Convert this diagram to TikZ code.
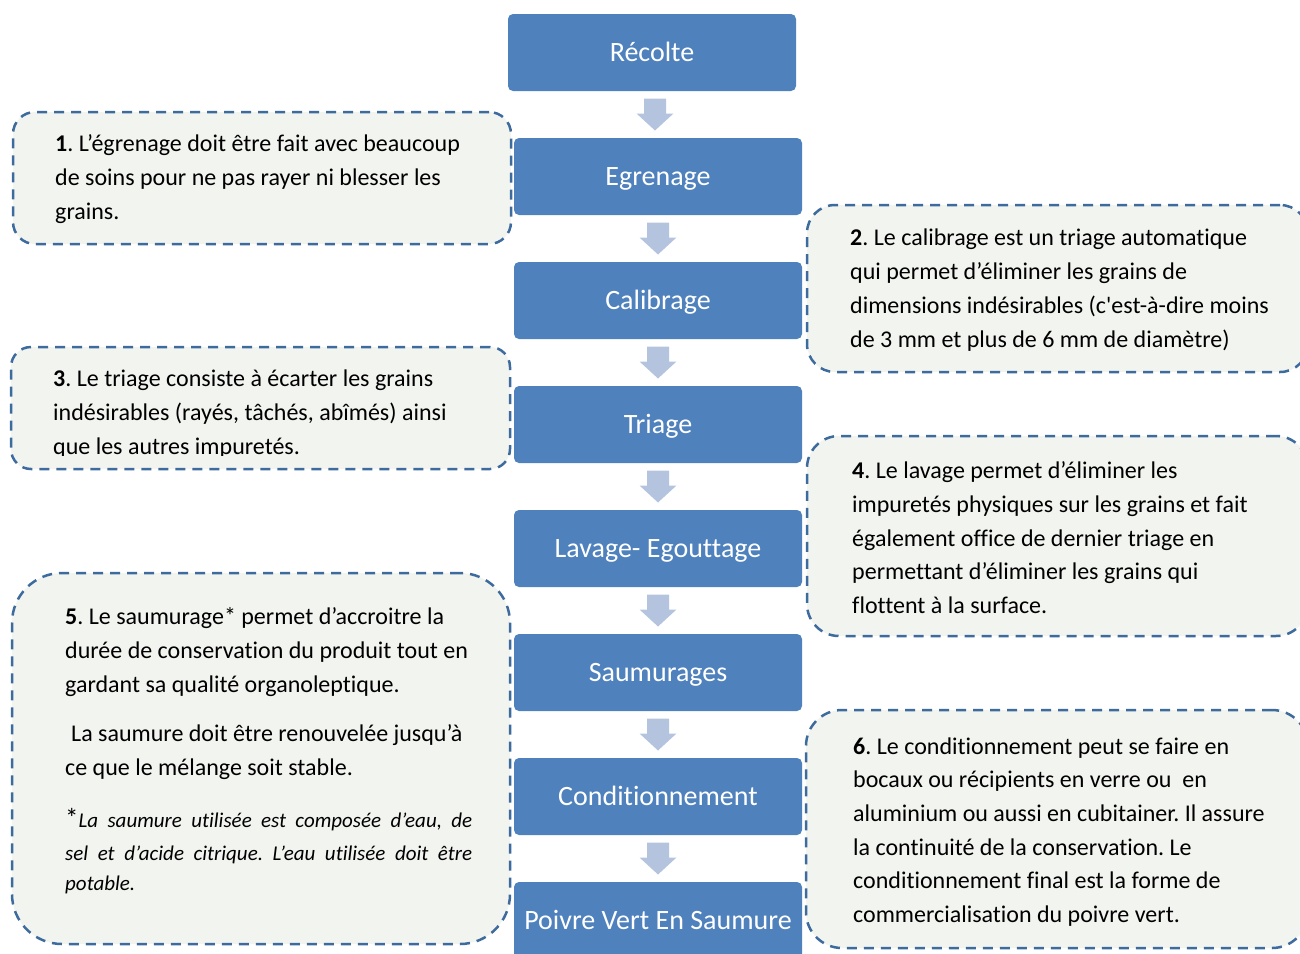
\documentclass[tikz,border=0pt]{standalone}
\usepackage{fontspec}
\setmainfont{Carlito}[Ligatures={CommonOff,TeXOff}]
\usetikzlibrary{calc}
\definecolor{stepfill}{HTML}{4F81BD}
\definecolor{arrowfill}{HTML}{B4C3DE}
\definecolor{notefill}{HTML}{F2F4EF}
\definecolor{notedraw}{HTML}{3E6B9E}
% block arrow half-way between two process boxes
\newcommand\flowarrow[2]{%
  \fill[arrowfill, shift={($(#1.south)!0.5!(#2.north)$)}]
    (-11,-16) -- (11,-16) -- (11,-1) -- (18.5,-1) -- (0,16) -- (-18.5,-1) -- (-11,-1) -- cycle;}
\frenchspacing
\begin{document}
\frenchspacing
\begin{tikzpicture}[x=1pt, y=-1pt,
  stepbox/.style={fill=stepfill, rounded corners=5pt, minimum width=288pt, minimum height=77pt,
    inner sep=0pt, text=white, font=\fontsize{28}{34}\selectfont, text height=18pt, text depth=0pt},
  notebox/.style={fill=notefill, draw=notedraw, line width=2.5pt, dash pattern=on 10pt off 7pt,
    inner sep=0pt},
  line/.style={anchor=base west, inner sep=0pt, font=\fontsize{24}{34}\selectfont\frenchspacing},
  smallit/.style={anchor=base west, inner sep=0pt, font=\fontsize{21}{30}\selectfont\itshape\frenchspacing}]
\useasboundingbox (0,0) rectangle (1300,953);
\clip (0,0) rectangle (1300,953);

% explanatory notes
\node[notebox, minimum width=498pt, minimum height=132pt, rounded corners=22pt] (n1) at (262,178) {};
\node[notebox, minimum width=501pt, minimum height=167pt, rounded corners=28pt] (n2) at (1057.5,288.5) {};
\node[notebox, minimum width=499pt, minimum height=122pt, rounded corners=20pt] (n3) at (260.5,408) {};
\node[notebox, minimum width=501pt, minimum height=200pt, rounded corners=32pt] (n4) at (1057.5,536) {};
\node[notebox, minimum width=498pt, minimum height=371pt, rounded corners=50pt] (n5) at (261,758.5) {};
\node[notebox, minimum width=502pt, minimum height=238pt, rounded corners=36pt] (n6) at (1057,829) {};

% process steps
\node[stepbox] (s0) at (652,52.5) {Récolte};
\node[stepbox] (s1) at (658,176.5) {Egrenage};
\node[stepbox] (s2) at (658,300.5) {Calibrage};
\node[stepbox] (s3) at (658,424.5) {Triage};
\node[stepbox] (s4) at (658,548.5) {Lavage- Egouttage};
\node[stepbox] (s5) at (658,672.5) {Saumurages};
\node[stepbox] (s6) at (658,796.5) {Conditionnement};
\node[stepbox] (s7) at (658,920.5) {Poivre Vert En Saumure};

\flowarrow{s0}{s1}
\flowarrow{s1}{s2}
\flowarrow{s2}{s3}
\flowarrow{s3}{s4}
\flowarrow{s4}{s5}
\flowarrow{s5}{s6}
\flowarrow{s6}{s7}

% note 1
\node[line] (t1a) at (55,151) {\textbf{1}. L’égrenage doit être fait avec beaucoup};
\node[line] (t1b) at (55,185) {de soins pour ne pas rayer ni blesser les};
\node[line] (t1c) at (55,219) {grains.};

% note 2
\node[line] (t2a) at (850,245) {\textbf{2}. Le calibrage est un triage automatique};
\node[line] (t2b) at (850,279) {qui permet d’éliminer les grains de};
\node[line] (t2c) at (850,313) {dimensions indésirables (c'est-à-dire moins};
\node[line] (t2d) at (850,347) {de 3 mm et plus de 6 mm de diamètre)};

% note 3, its last line cut by the text frame
\begin{scope}
\clip (11,347) rectangle (511,455);
\node[line] (t3a) at (53,386) {\textbf{3}. Le triage consiste à écarter les grains};
\node[line] (t3b) at (53,420) {indésirables (rayés, tâchés, abîmés) ainsi};
\node[line] (t3c) at (53,454) {que les autres impuretés.};
\end{scope}

% note 4
\node[line] (t4a) at (852,478) {\textbf{4}. Le lavage permet d’éliminer les};
\node[line] (t4b) at (852,512) {impuretés physiques sur les grains et fait};
\node[line] (t4c) at (852,546) {également office de dernier triage en};
\node[line] (t4d) at (852,579.5) {permettant d’éliminer les grains qui};
\node[line] (t4e) at (852,613) {flottent à la surface.};

% note 5
\node[line] (t5a) at (65,624) {\textbf{5}. Le saumurage* permet d’accroitre la};
\node[line] (t5b) at (65,658) {durée de conservation du produit tout en};
\node[line] (t5c) at (65,692) {gardant sa qualité organoleptique.};
\node[line] (t5d) at (71,741) {La saumure doit être renouvelée jusqu’à};
\node[line] (t5e) at (65,775) {ce que le mélange soit stable.};
\node[smallit] (t5f) at (65,827) {\makebox[407pt][s]{{\upshape\fontsize{27}{30}\selectfont*}La saumure utilisée est composée d’eau, de}};
\node[smallit] (t5g) at (65,860) {\makebox[407pt][s]{sel et d’acide citrique. L’eau utilisée doit être}};
\node[smallit] (t5h) at (65,890) {potable.};

% note 6
\node[line] (t6a) at (853,754) {\textbf{6}. Le conditionnement peut se faire en};
\node[line] (t6b) at (853,787.5) {bocaux ou récipients en verre ou\ \ en};
\node[line] (t6c) at (853,821.5) {aluminium ou aussi en cubitainer. Il assure};
\node[line] (t6d) at (853,855) {la continuité de la conservation. Le};
\node[line] (t6e) at (853,888.5) {conditionnement final est la forme de};
\node[line] (t6f) at (853,922) {commercialisation du poivre vert.};
\end{tikzpicture}
\end{document}
